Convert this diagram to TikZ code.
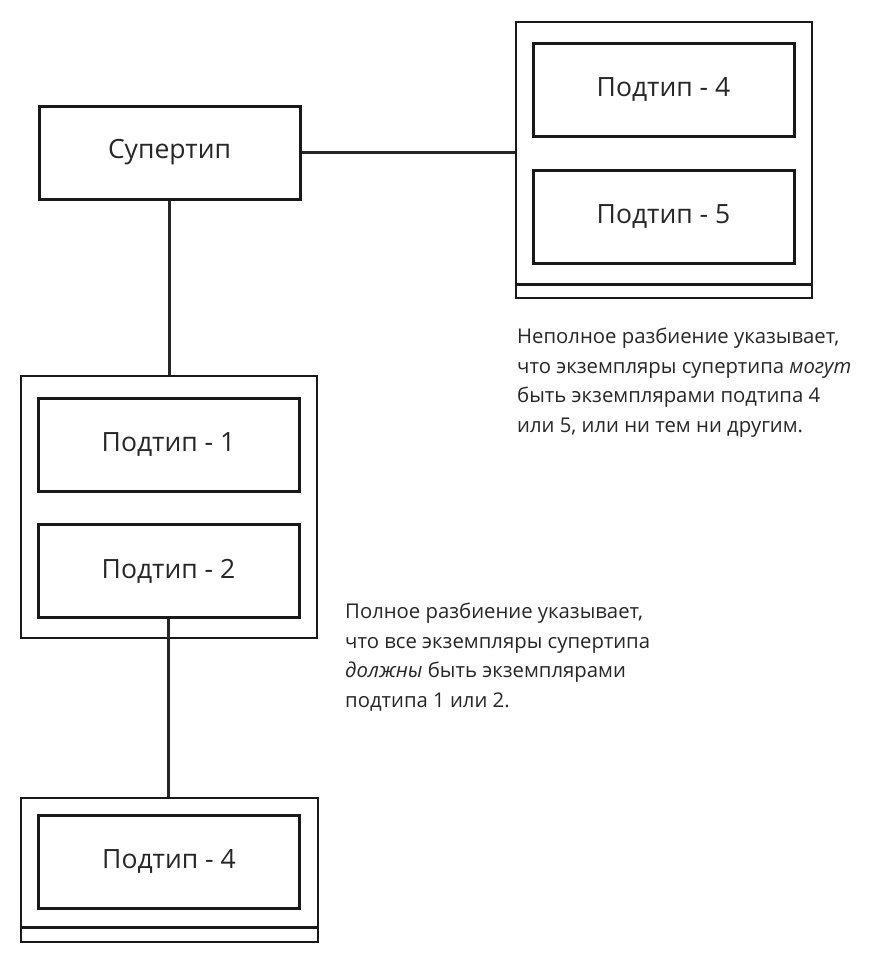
\documentclass[tikz,border=0pt]{standalone}
\usepackage{fontspec}
\setmainfont{Open Sans}
\begin{document}
\begin{tikzpicture}[x=1pt,y=-1pt,
  tipo/.style={draw=black!90, line width=3pt, minimum width=261pt, minimum height=93pt,
    inner sep=0pt, font=\fontsize{26.5}{32}\selectfont, text=black!85},
  grupo/.style={draw=black!90, line width=2.8pt, inner sep=0pt},
  conector/.style={draw=black!85, line width=2.2pt},
  nota/.style={align=left, inner sep=0pt, font=\fontsize{20.3}{29.5}\selectfont, text=black!85}]
\useasboundingbox (0,0) rectangle (871,962);

% Supertipo
\node[tipo] (super) at (169.5,152.5) {Супертип};

% Grupo de la derecha: subtipos 4 y 5
\node[grupo, minimum width=296pt, minimum height=276pt] (cont45) at (664,160) {};
\node[tipo] (sub4a) at (663.5,89.5) {Подтип - 4};
\node[tipo] (sub5) at (663.5,216.5) {Подтип - 5};
\draw[line width=2.8pt, black!90] ([yshift=15pt]cont45.south west) -- ([yshift=15pt]cont45.south east);

% Grupo de la izquierda: subtipos 1 y 2
\node[grupo, minimum width=296pt, minimum height=262pt] (cont12) at (169,507) {};
\node[tipo] (sub1) at (168.5,444.5) {Подтип - 1};
\node[tipo] (sub2) at (168.5,571) {Подтип - 2};

% Grupo de abajo
\node[grupo, minimum width=297pt, minimum height=144pt] (cont4) at (169.5,870) {};
\node[tipo] (sub4b) at (169,861.5) {Подтип - 4};
\draw[line width=2.8pt, black!90] ([yshift=16pt]cont4.south west) -- ([yshift=16pt]cont4.south east);

% Conectores
\draw[conector] (super.east) -- (super.east -| cont45.west);
\draw[conector] (super.south) -- (super.south |- cont12.north);
\draw[conector] (sub2.south) -- (sub2.south |- cont4.north);

% Notas (el ancla base queda en la ultima linea)
\node[nota, anchor=base west] (nota45) at (517,432) {Неполное разбиение указывает,\\
  что экземпляры супертипа \textit{могут}\\
  быть экземплярами подтипа 4\\
  или 5, или ни тем ни другим.};
\node[nota, anchor=base west] (nota12) at (345,707) {Полное разбиение указывает,\\
  что все экземпляры супертипа\\
  \textit{должны} быть экземплярами\\
  подтипа 1 или 2.};
\end{tikzpicture}
\end{document}
